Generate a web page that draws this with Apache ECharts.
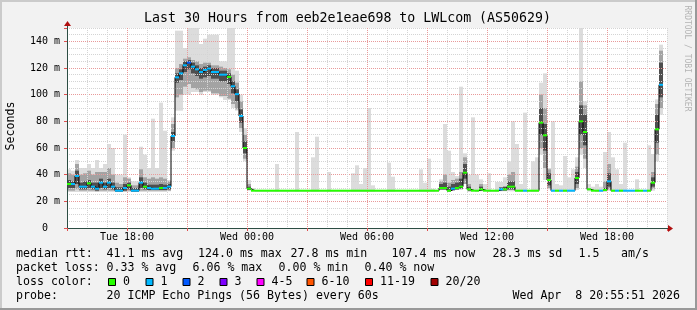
<!DOCTYPE html>
<html><head><meta charset="utf-8">
<script src="https://cdn.jsdelivr.net/npm/echarts@6.0.0/dist/echarts.min.js"></script>
<style>html,body{margin:0;padding:0;background:#f2f2f2;}#c{width:697px;height:310px;}</style>
</head><body><div id="c"></div>
<script>
// ---- data (one bin = 12 minutes, x axis in hours from Tue 15:00) ----
const BIN_H = 0.2;
const xTickLabels = {3:'Tue 18:00', 9:'Wed 00:00', 15:'Wed 06:00', 21:'Wed 12:00', 27:'Wed 18:00'};
const yTickLabels = {0:'0  ', 20:'20 m', 40:'40 m', 60:'60 m', 80:'80 m', 100:'100 m', 120:'120 m', 140:'140 m'};

const median = [
 33,33,39,31,31,33.5,31,29.5,34,31,34,31,28,28,30,32,28,28,34,31,30,29.5,29.5,30,30,
 31,69,113,116,122,124,121,119,117,118.5,119.5,117,117,115,115,113.3,106.3,100.4,84,60,29.5,28,28,28,28,
 28,28,28,28,28,28,28,28,28,28,28,28,28,28,28,28,28,28,28,28,28,28,28,28,28,
 28,28,28,28,28,28,28,28,28,28,28,28,28,28,28,28,28,28,30,30,28,29.5,30,31,41.5,
 29,28,28,29,28,28,28,28,29,29,31,31,28,28,28,28,28,28,79,69.5,36,28,28,28,28,
 28,28,37.5,80,72,29,28,28,28,28.5,35,28,28,28,28,28,28,28,28,28,28,34,74,107.4,null
];
const loss = [
 0,1,1,1,1,0,1,1,1,1,1,1,1,1,1,0,1,1,1,0,1,1,1,0,1,
 1,1,1,1,1,2,1,1,1,1,1,1,1,1,1,0,1,1,1,0,0,0,0,0,0,
 0,0,0,0,0,0,0,0,0,0,0,0,0,0,0,0,0,0,0,0,0,0,0,0,0,
 0,0,0,0,0,0,0,0,0,0,0,0,0,0,0,0,0,0,0,0,0,1,0,0,0,
 0,0,0,0,0,0,0,0,1,0,0,0,0,0,1,0,0,0,0,0,0,1,0,1,0,
 1,1,0,0,0,0,0,0,1,0,1,0,1,0,1,1,1,0,0,1,0,0,0,1,null
];
const smokeHi = [
 44,43,51,45,45,48,45,51,45,48,63,60,40,40,70,38,35,35,61,55,45,82,45,94,73,
 36,83,148,148,135,150,150,150,138,142,145,145,145,125,125,150,150,118,100,75,36,30,null,null,null,
 null,null,48,null,null,null,null,72,null,null,null,53,68.5,null,null,42,null,null,null,null,null,41,47,33,45,
 90,32,null,null,null,49,38.5,null,null,null,null,null,null,44,34,52,29.5,null,36.5,78,58,42,39,106,56,
 40,83,40,36.5,33,41,null,34.5,34.5,38,50,80,63,33,86.5,null,50,53,109,116,45,80,33,32,54,
 38,44,53,150,95,33,31,33,31,57,72,53,44,33,64,null,null,36.5,null,null,62,55.5,96.5,137.5,null
];
const smokeLo = [
 27,27,27,27,27,27,27,27,27,27,27,27,27,27,27,27,27,27,27,27,27,27,27,27,27,
 27.5,58,88,88,100,100,102,102,100,102,102,100,100,98,96,96,90,88,72,50,28,27.5,27.5,27.5,27.5,
 27.5,27.5,27.5,27.5,27.5,27.5,27.5,27.5,27.5,27.5,27.5,27.5,27.5,27.5,27.5,27.5,27.5,27.5,27.5,27.5,27.5,27.5,27.5,27.5,27.5,
 27.5,27.5,27.5,27.5,27.5,27.5,27.5,27.5,27.5,27.5,27.5,27.5,27.5,27.5,27.5,27.5,27.5,27.5,28.5,28.5,27.5,28,28.5,29,33,
 27.5,27.5,27.5,27.5,27.5,27.5,27.5,27.5,27.5,27.5,27.5,27.5,27.5,27.5,27.5,27.5,27.5,27.5,55,36,29,27.5,27.5,27.5,27.5,
 27.5,27.5,28.5,55,45,27.5,27.5,27.5,27.5,27.5,28,27.5,27.5,27.5,27.5,27.5,27.5,27.5,27.5,27.5,28,28,50,85,null
];
// [bin, low, high]
const midBand = [
 [0,28,41],[1,28,40],[2,29,48],[3,28,40],[4,28,41],[5,28,43],[6,28,40],[7,27.5,42],[8,28,42],[9,28,42],[10,28,45],[11,28,40],[12,27,34],[13,27,33],[14,27.5,38],[15,28,37],[16,27,32],[17,27,32],[18,28,44],[19,28,38],[20,28,37],[21,28,38],[22,28,37],[23,28,38],[24,28,37],[25,28,35],
 [26,60,78],[27,98,120],[28,100,123],[29,106,127],[30,108,128],[31,105,126],[32,104,125],[33,102,123],[34,103,124],[35,103,124],[36,101,122],[37,101,122],[38,99,121],[39,99,120],[40,97,119],[41,93,115],[42,89,109],[43,75,95],[44,52,70],[45,28.5,33],
 [93,28.5,35],[94,28.5,40],[95,27.5,34],[96,28,36],[97,28.5,37],[98,29,42],[99,33,53],[100,27.5,33],[103,28,33],[110,28.5,40],[111,28.5,42],
 [118,60,100],[119,45,90],[120,30,44],[127,30,46],[128,60,110],[129,52,92],[134,27.5,35],[135,29,48],[146,29.5,42],[147,55,93],[148,90,133]
];
const darkBand = [
 [0,30,36],[1,30,35],[2,33,43],[3,29,34],[4,29,35],[5,30,36],[6,29,34],[7,28,34],[8,30,37],[9,29,34],[10,30,37],[11,29,34],[12,27.5,30.5],[13,27.5,30.5],[14,28,33],[15,29,34],[16,27.5,30],[17,27.5,30],[18,30,38],[19,29,34],[20,28.5,32.5],[21,28.5,32.5],[22,28.5,32.5],[23,28.5,33],[24,28.5,32.5],[25,29,33],
 [26,65,72],[27,109,116],[28,111,119],[29,117,125],[30,119,126],[31,116,124],[32,114,122],[33,112,120],[34,113,121],[35,114,122],[36,112,120],[37,112,120],[38,110,118],[39,110,118],[40,108,116],[41,101,110],[42,95,104],[43,79,89],[44,56,65],[45,28.5,31],
 [93,29,33],[94,29,34],[95,27.5,31],[96,28.5,33],[97,29,34],[98,29.5,37],[99,37,48],[100,28,31],[103,28,31],[108,28,30.5],[109,28,31],[110,29,35],[111,29,35],
 [118,70,90],[119,58,78],[120,32,41],[127,33,42],[128,70,92],[129,62,85],[134,28,30],[135,31,41],[146,31,38],[147,64,85],[148,98,124]
];
const lossLabels = ['0','1','2','3','4-5','6-10','11-19','20/20'];
const lossColors = ['#26ff00','#00b8ff','#0059ff','#7e00ff','#ff00ff','#ff5500','#ff0000','#a10000'];

// ---- build ----
const MONO = '"DejaVu Sans Mono", monospace';
function rectSeries(data, color, z){
  return {type:'custom', z, silent:true, animation:false, clip:true,
    encode:{x:[0,3], y:[1,2]}, data,
    renderItem:(p, api)=>{
      const a = api.coord([api.value(0), api.value(2)]);
      const b = api.coord([api.value(3), api.value(1)]);
      return {type:'rect', shape:{x:a[0], y:a[1], width:b[0]-a[0], height:b[1]-a[1]}, style:{fill:color}};
    }};
}
const lightData = [];
smokeHi.forEach((h,i)=>{ if(h!=null && smokeLo[i]!=null) lightData.push([i*BIN_H, smokeLo[i], h, (i+1)*BIN_H]); });
const toRows = list => list.map(r=>[r[0]*BIN_H, r[1], r[2], (r[0]+1)*BIN_H]);

const stepData = []; let lastIdx = -1;
median.forEach((m,i)=>{ if(m!=null){ stepData.push([i*BIN_H, m]); lastIdx = i; } });
stepData.push([(lastIdx+1)*BIN_H, median[lastIdx]]);
const markData = [];
median.forEach((m,i)=>{ if(m!=null) markData.push([i*BIN_H, m, (i+1)*BIN_H, loss[i]]); });

const gridLeft = 67, gridTop = 28, gridW = 600, gridH = 200;

const graphic = [];
graphic.push({type:'rect', shape:{x:0,y:0,width:697,height:2}, style:{fill:'#cbcbcb'}, z:100});
graphic.push({type:'rect', shape:{x:0,y:0,width:2,height:310}, style:{fill:'#cbcbcb'}, z:100});
graphic.push({type:'rect', shape:{x:695,y:0,width:2,height:310}, style:{fill:'#999999'}, z:100});
graphic.push({type:'rect', shape:{x:0,y:308,width:697,height:2}, style:{fill:'#999999'}, z:100});
graphic.push({type:'text', x:347.5, y:18.5, z:100, style:{text:'Last 30 Hours from eeb2e1eae698 to LWLcom (AS50629)', font:'13.25px '+MONO, fill:'#000', align:'center', verticalAlign:'middle'}});
graphic.push({type:'text', x:10.5, y:126, rotation:Math.PI/2, z:100, style:{text:'Seconds', font:'11.6px '+MONO, fill:'#000', align:'center', verticalAlign:'middle'}});
graphic.push({type:'text', x:687.5, y:58.5, rotation:-Math.PI/2, z:100, style:{text:'RRDTOOL / TOBI OETIKER', font:'8px '+MONO, fill:'#b4b4b4', align:'center', verticalAlign:'middle'}});
graphic.push({type:'line', shape:{x1:67.5,y1:28,x2:67.5,y2:25}, style:{stroke:'#2c4d43', lineWidth:1}, z:100});
graphic.push({type:'polygon', shape:{points:[[64,26],[71,26],[67.5,21]]}, style:{fill:'#b01010'}, z:100});
graphic.push({type:'line', shape:{x1:667,y1:228.5,x2:669,y2:228.5}, style:{stroke:'#2c4d43', lineWidth:1}, z:100});
graphic.push({type:'polygon', shape:{points:[[668,225],[668,232],[673,228.5]]}, style:{fill:'#b01010'}, z:100});
const LF = '11.6px '+MONO;
function txt(x,y,t,align){ graphic.push({type:'text', x, y, z:100, style:{text:t, font:LF, fill:'#000', align:align||'left', verticalAlign:'middle'}}); }
[[16,'median rtt:'],[106.5,'41.1 ms avg'],[198,'124.0 ms max'],[290.5,'27.8 ms min'],[391.5,'107.4 ms now'],[492.5,'28.3 ms sd'],[578.5,'1.5'],[621,'am/s']].forEach(a=>txt(a[0],254,a[1]));
[[16,'packet loss:'],[106.5,'0.33 % avg'],[192.5,'6.06 % max'],[278.5,'0.00 % min'],[364.5,'0.40 % now']].forEach(a=>txt(a[0],268,a[1]));
txt(16,282,'loss color:');
const boxX = [108,145.5,182.5,219.5,256.5,306.5,365,430.5];
lossLabels.forEach((l,k)=>{
  graphic.push({type:'rect', z:100, shape:{x:boxX[k]+0.5, y:278.5, width:7, height:7}, style:{fill:lossColors[k], stroke:'#000', lineWidth:1}});
  txt(boxX[k]+15, 282, l);
});
txt(16,296,'probe:');
txt(106.5,296,'20 ICMP Echo Pings (56 Bytes) every 60s');
txt(680,296,'Wed Apr  8 20:55:51 2026','right');

const minorGrid = {show:true, lineStyle:{color:'#d4d4d4', width:1, type:[1,1]}};
const majorGrid = {show:true, showMaxLine:false, lineStyle:{color:'#e89a9a', width:1, type:[1,1]}};

const option = {
  backgroundColor:'#f2f2f2',
  animation:false,
  grid:{left:gridLeft, top:gridTop, width:gridW, height:gridH, show:true, backgroundColor:'#ffffff', borderWidth:0},
  xAxis:[
    {type:'value', min:0, max:30, interval:1, z:3,
     axisLine:{show:true, onZero:false, lineStyle:{color:'#2c4d43'}}, axisTick:{show:false},
     axisLabel:{margin:4, fontFamily:'DejaVu Sans Mono', fontSize:10, color:'#000', formatter:v=>xTickLabels[v]||''},
     splitLine:minorGrid},
    {type:'value', min:0, max:30, interval:3, z:3, position:'bottom',
     axisLine:{show:false}, axisTick:{show:true, length:3, lineStyle:{color:'#e05050'}}, axisLabel:{show:false},
     splitLine:majorGrid}
  ],
  yAxis:[
    {type:'value', min:0, max:150, interval:5, z:3,
     axisLine:{show:true, onZero:false, lineStyle:{color:'#2c4d43'}}, axisTick:{show:false},
     axisLabel:{margin:7, fontFamily:'DejaVu Sans Mono', fontSize:10, color:'#000', formatter:v=>yTickLabels[v]||'', showMaxLabel:false},
     splitLine:minorGrid},
    {type:'value', min:0, max:150, interval:20, z:3, position:'left',
     axisLine:{show:false}, axisTick:{show:true, length:3, lineStyle:{color:'#e05050'}}, axisLabel:{show:false},
     splitLine:majorGrid}
  ],
  graphic,
  series:[
    rectSeries(lightData, '#dcdcdc', 1),
    rectSeries(toRows(midBand), '#a3a3a3', 1),
    rectSeries(toRows(darkBand), '#4e4e4e', 1),
    {type:'line', step:'end', data:stepData, showSymbol:false, symbol:'none', z:5, silent:true, animation:false,
     lineStyle:{color:'#000', width:1}},
    {type:'custom', z:6, silent:true, animation:false, data:markData, encode:{x:[0,2], y:1},
     renderItem:(p, api)=>{
       const a = api.coord([api.value(0), api.value(1)]);
       const b = api.coord([api.value(2), api.value(1)]);
       return {type:'rect', shape:{x:a[0], y:a[1]-1, width:b[0]-a[0], height:2}, style:{fill:lossColors[api.value(3)]}};
     }}
  ]
};
const chart = echarts.init(document.getElementById('c'), null, {renderer:'canvas'});
chart.setOption(option);
</script></body></html>
